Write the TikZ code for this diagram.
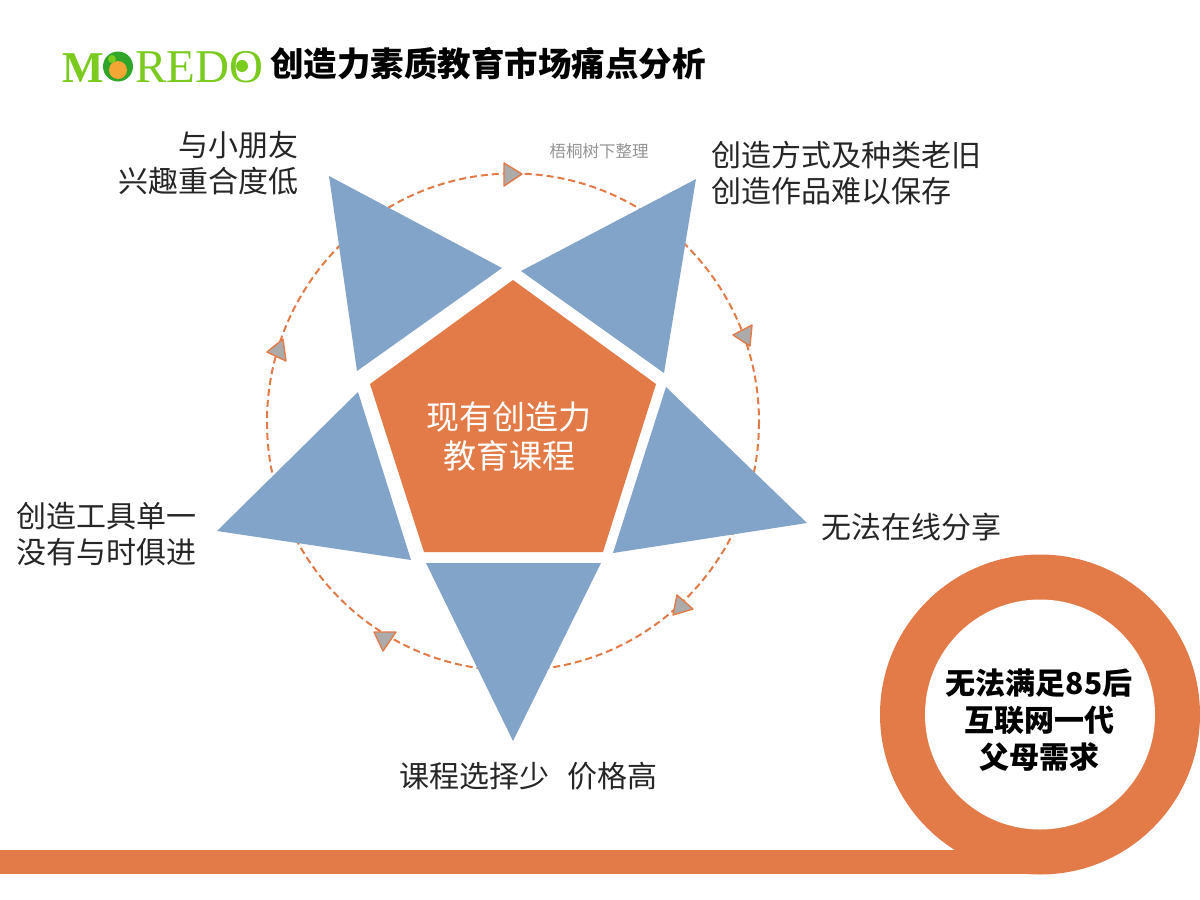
\documentclass[tikz,border=0pt]{standalone}
\usepackage{fontspec}
\setmainfont{Noto Sans CJK SC}
\newfontfamily\logofont{Liberation Serif}
\definecolor{orangeA}{HTML}{E27B47}
\definecolor{blueA}{HTML}{83A4C9}
\definecolor{greyA}{HTML}{ABABAB}
\definecolor{greenA}{HTML}{7ACB1E}
\definecolor{greenB}{HTML}{2FA62A}
\definecolor{amberA}{HTML}{F5A534}
\tikzset{
  x=1bp,y=-1bp,
  petal/.style={fill=blueA,draw=none},
  marker/.style={fill=greyA,draw=orangeA,line width=1.4bp,line join=round},
  ring/.style={draw=orangeA,dash pattern=on 7bp off 4bp,line width=2bp},
  label/.style={font=\fontsize{30bp}{36bp}\selectfont,text=black!85,inner sep=0pt},
}
\begin{document}
\begin{tikzpicture}
\useasboundingbox (0,0) rectangle (1200,900);
\fill[white] (0,0) rectangle (1200,900);
% ring
\coordinate (c) at (513,422);
\draw[ring] (c) ellipse[x radius=246,y radius=248.5];
\draw[marker] (504,163)--(504,186)--(522,174)--cycle;
\draw[marker] (752,325)--(733,335)--(750,346)--cycle;
\draw[marker] (677,595)--(693,609)--(673,615)--cycle;
\draw[marker] (283,339)--(267,352)--(286,361)--cycle;
\draw[marker] (374,632)--(396,632)--(383,651)--cycle;
% petals
\fill[petal] (329,176)--(502,268)--(357,371)--cycle;
\fill[petal] (696,179)--(521,271)--(664,373)--cycle;
\fill[petal] (807,523)--(666,387)--(613,553)--cycle;
\fill[petal] (513,741)--(426,563)--(601,563)--cycle;
\fill[petal] (217,531)--(358,392)--(411,560)--cycle;
\fill[orangeA] (513,280)--(656,384)--(603,552)--(424,552)--(370,384)--cycle;
\node[font=\fontsize{33bp}{39bp}\selectfont,text=white,align=center,inner sep=0pt] (core) at (509,437) {现有创造力\\教育课程};
% labels
\node[label,align=right,anchor=east] (l1) at (299,163) {与小朋友\\兴趣重合度低};
\node[label,align=left,anchor=west] (l2) at (711,173) {创造方式及种类老旧\\创造作品难以保存};
\node[label,anchor=west] (l3) at (821,527) {无法在线分享};
\node[label,anchor=center] (l4) at (528.5,776) {课程选择少\hspace{18bp}价格高};
\node[label,align=left,anchor=west] (l5) at (16,534) {创造工具单一\\没有与时俱进};
\node[font=\fontsize{16.5bp}{18bp}\selectfont,text=black!42,inner sep=0pt] (note) at (599,151) {梧桐树下整理};
% bottom
\fill[orangeA] (0,850) rectangle (1040,874);
\fill[orangeA] (1040,714.5) circle[radius=160];
\fill[white] (1040,714.5) circle[radius=115];
\node[font=\bfseries\fontsize{30bp}{37bp}\selectfont,text=black,align=center,inner sep=0pt] (need) at (1039,720) {无法满足85后\\互联网一代\\父母需求};
% title
\node[font=\bfseries\fontsize{33.5bp}{36bp}\selectfont,text=black,anchor=west,inner sep=0pt] (title) at (270,64) {创造力素质教育市场痛点分析};
% logo
\node[font=\logofont\bfseries\fontsize{44bp}{44bp}\selectfont,text=greenA,anchor=base west,inner sep=0pt] (m) at (62,82) {M};
\fill[greenB] (118,66.5) circle[radius=15];
\fill[amberA] (118,70) circle[radius=9];
\fill[greenA] (112,59) circle[radius=4];
\node[font=\logofont\fontsize{47bp}{47bp}\selectfont,text=greenA,anchor=base west,inner sep=0pt] (rest) at (135,82) {REDO};
\fill[greenA] (242,66) circle[radius=6];
\end{tikzpicture}
\end{document}
